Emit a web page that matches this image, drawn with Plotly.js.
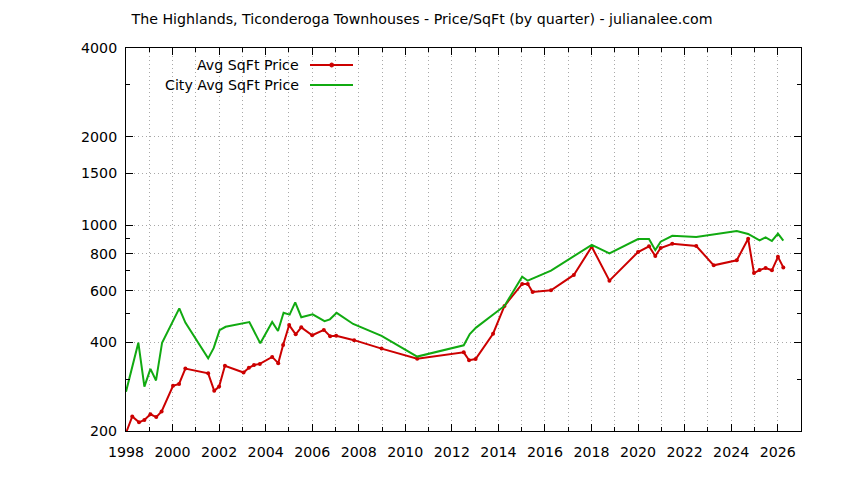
<!DOCTYPE html>
<html>
<head>
<meta charset="utf-8">
<script src="https://cdn.plot.ly/plotly-3.0.1.min.js"></script>
<style>
  html, body { margin: 0; padding: 0; background: #fff; }
  #graph { width: 844px; height: 480px; }
</style>
</head>
<body>
<div id="graph"></div>
<script>
// Values (quarterly price per sq ft)
const avgYears = [1998.0, 1998.27, 1998.56, 1998.79, 1999.05, 1999.30, 1999.53, 2000.02, 2000.28, 2000.55,
  2001.53, 2001.79, 2002.0, 2002.25, 2003.05, 2003.28, 2003.50, 2003.75, 2004.28, 2004.54,
  2004.75, 2005.01, 2005.29, 2005.53, 2006.0, 2006.5, 2006.77, 2007.03, 2007.80, 2008.98,
  2010.51, 2012.51, 2012.74, 2013.02, 2013.77, 2014.26, 2015.02, 2015.26, 2015.47, 2016.26,
  2017.24, 2018.01, 2018.77, 2020.0, 2020.47, 2020.74, 2020.97, 2021.47, 2022.50, 2023.25,
  2024.24, 2024.73, 2024.98, 2025.22, 2025.48, 2025.75, 2026.01, 2026.24];
const avgPrice = [197, 224, 214, 218, 228, 223, 233, 285, 289, 326,
  314, 274, 283, 333, 316, 328, 335, 338, 357, 340,
  392, 458, 426, 450, 423, 441, 420, 421, 407, 381,
  352, 370, 348, 351, 428, 532, 632, 632, 593, 601,
  678, 845, 648, 811, 848, 786, 837, 865, 850, 731,
  760, 900, 688, 704, 716, 703, 781, 719];

const cityYears = [1998.0, 1998.53, 1998.79, 1999.05, 1999.29, 1999.55, 2000.29, 2000.55, 2001.53, 2001.77,
  2002.02, 2002.28, 2003.30, 2003.77, 2004.28, 2004.53, 2004.77, 2005.03, 2005.27, 2005.53,
  2006.02, 2006.53, 2006.76, 2007.05, 2007.76, 2008.98, 2010.51, 2012.51, 2012.77, 2013.04,
  2014.26, 2015.02, 2015.26, 2016.26, 2018.01, 2018.77, 2020.0, 2020.47, 2020.74, 2020.97,
  2021.47, 2022.50, 2024.24, 2024.73, 2025.22, 2025.48, 2025.75, 2026.01, 2026.24];
const cityPrice = [272, 399, 283, 325, 297, 399, 522, 467, 353, 383,
  440, 452, 469, 397, 469, 437, 504, 497, 547, 487,
  498, 472, 479, 504, 462, 421, 358, 391, 427, 449,
  532, 669, 648, 701, 858, 803, 898, 898, 823, 879,
  921, 912, 956, 934, 889, 910, 884, 936, 886];

const yLabels = [200, 400, 600, 800, 1000, 1500, 2000, 4000];
const yMinor = [300, 500, 700, 900, 3000];
const xLabels = [1998, 2000, 2002, 2004, 2006, 2008, 2010, 2012, 2014, 2016, 2018, 2020, 2022, 2024, 2026];
const xMinor = [1999, 2001, 2003, 2005, 2007, 2009, 2011, 2013, 2015, 2017, 2019, 2021, 2023, 2025];

const RED = '#cc0000';
const GREEN = '#11aa11';
const FONT = 'DejaVu Sans, sans-serif';
const FSIZE = 14.2;

const traces = [
  {
    x: avgYears, y: avgPrice, name: 'Avg SqFt Price',
    mode: 'lines+markers',
    line: {color: RED, width: 2},
    marker: {color: RED, size: 4}
  },
  {
    x: cityYears, y: cityPrice, name: 'City Avg SqFt Price',
    mode: 'lines',
    line: {color: GREEN, width: 2}
  }
];

const gridStyle = {gridcolor: '#a8a8a8', griddash: '1px,3px', gridwidth: 1};

const layout = {
  width: 844, height: 480,
  margin: {l: 126, r: 43, t: 48, b: 49},
  paper_bgcolor: '#fff', plot_bgcolor: '#fff',
  font: {family: FONT, size: FSIZE, color: '#000'},
  showlegend: false,
  title: {
    text: 'The Highlands, Ticonderoga Townhouses - Price/SqFt (by quarter) - julianalee.com',
    font: {family: FONT, size: FSIZE, color: '#000'},
    xref: 'container', x: 0.5, xanchor: 'center',
    yref: 'container', y: 0.96, yanchor: 'middle'
  },
  xaxis: Object.assign({
    range: [1998, 2027],
    tickmode: 'array', tickvals: xLabels,
    ticks: 'inside', ticklen: 7, tickcolor: '#000', tickwidth: 1,
    ticklabelstandoff: 8,
    showline: true, linecolor: '#000', linewidth: 1, mirror: 'ticks',
    zeroline: false, showgrid: true,
    minor: Object.assign({tickvals: xMinor, ticks: 'inside', ticklen: 4, tickcolor: '#000', showgrid: true}, gridStyle)
  }, gridStyle),
  yaxis: Object.assign({
    type: 'log',
    range: [Math.log10(200), Math.log10(4000)],
    tickmode: 'array', tickvals: yLabels, ticktext: yLabels.map(String),
    ticks: 'inside', ticklen: 7, tickcolor: '#000', tickwidth: 1,
    ticklabelstandoff: 5,
    showline: true, linecolor: '#000', linewidth: 1, mirror: 'ticks',
    zeroline: false, showgrid: true,
    minor: {tickvals: yMinor, ticks: 'inside', ticklen: 4, tickcolor: '#000', showgrid: false}
  }, gridStyle),
  shapes: [
    // white key box hides the grid behind the legend
    {type: 'rect', xref: 'paper', yref: 'paper', x0: 0.003, x1: 0.361, y0: 0.875, y1: 0.985,
     fillcolor: '#fff', line: {width: 0}, layer: 'between'},
    {type: 'line', xref: 'paper', yref: 'paper', x0: 0.2726, x1: 0.3363, y0: 0.9556, y1: 0.9556,
     line: {color: RED, width: 2}},
    {type: 'circle', xref: 'paper', yref: 'paper', xsizemode: 'pixel', ysizemode: 'pixel',
     xanchor: 0.3047, yanchor: 0.9556, x0: -2, x1: 2, y0: -2, y1: 2,
     fillcolor: RED, line: {color: RED, width: 1}},
    {type: 'line', xref: 'paper', yref: 'paper', x0: 0.2726, x1: 0.3363, y0: 0.9034, y1: 0.9034,
     line: {color: GREEN, width: 2}}
  ],
  annotations: [
    {text: 'Avg SqFt Price', xref: 'paper', yref: 'paper', x: 0.2588, y: 0.9556,
     xanchor: 'right', yanchor: 'middle', showarrow: false, font: {family: FONT, size: FSIZE}},
    {text: 'City Avg SqFt Price', xref: 'paper', yref: 'paper', x: 0.2588, y: 0.9034,
     xanchor: 'right', yanchor: 'middle', showarrow: false, font: {family: FONT, size: FSIZE}}
  ]
};

Plotly.newPlot('graph', traces, layout, {displayModeBar: false, staticPlot: true});
</script>
</body>
</html>
